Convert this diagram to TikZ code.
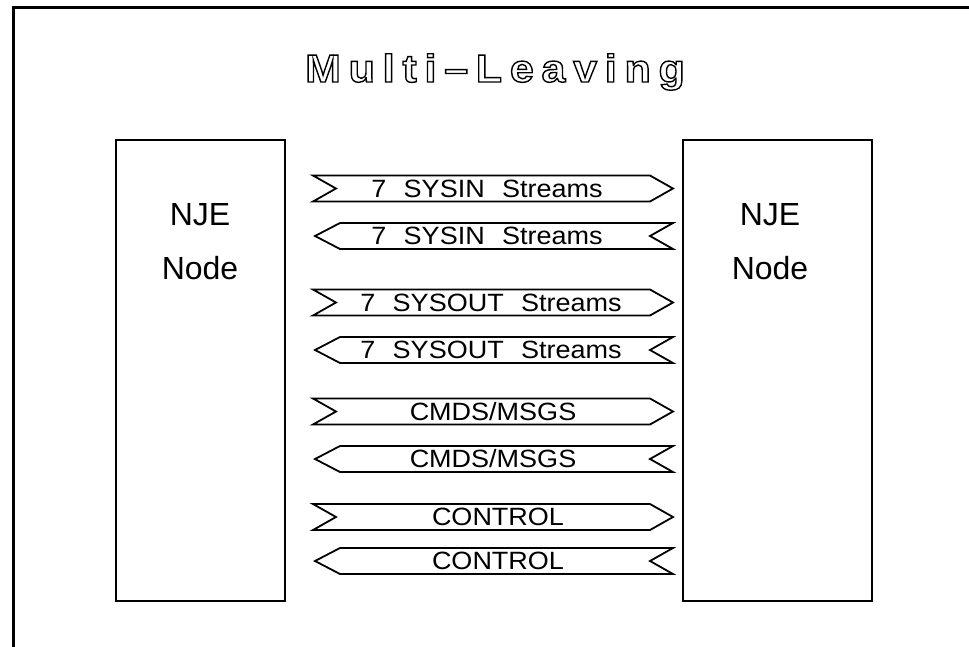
\documentclass[tikz,border=0pt]{standalone}
\usepackage{fontspec}
\setmainfont{Liberation Sans}
\newfontfamily\bannerfont[FakeStretch=1.08,WordSpace=2.3]{Liberation Sans}
\newfontfamily\titlefont[LetterSpace=20,FakeStretch=1.1]{Liberation Sans Bold}
\begin{document}
\begin{tikzpicture}[x=1pt,y=-1pt,
  frame/.style={line width=3pt,line cap=rect},
  nodebox/.style={draw,line width=1.5pt,rectangle,inner sep=0pt,anchor=north west},
  njetext/.style={anchor=base,inner sep=0pt,font=\fontsize{32}{36}\selectfont},
  bannerline/.style={line width=1.8pt,line join=miter},
  bannertext/.style={anchor=base,inner sep=0pt,font=\bannerfont\fontsize{25}{30}\selectfont},
  titletext/.style={anchor=base,inner sep=0pt,line width=1.4pt,font=\titlefont\fontsize{39}{44}\selectfont}]
\useasboundingbox (0,0) rectangle (969,646);
\draw[frame] (13,646) -- (13,7) -- (969,7);
% NJE node boxes
\node[nodebox,minimum width=169pt,minimum height=461pt] (leftbox) at (115,139) {};
\node[nodebox,minimum width=189pt,minimum height=461pt] (rightbox) at (682,139) {};
\node[njetext] (leftnje) at (200,225) {NJE};
\node[njetext] (leftnode) at (200,279) {Node};
\node[njetext] (rightnje) at (770,225) {NJE};
\node[njetext] (rightnode) at (770,279) {Node};
% banners pointing right
\foreach \c/\xc/\t/\n in {188.5/487/{7 SYSIN Streams}/r1,302.5/491/{7 SYSOUT Streams}/r2,411.5/493/{CMDS/MSGS}/r3,517/498/{CONTROL}/r4}{
  \draw[bannerline] (313,{\c-13}) -- (650,{\c-13}) -- (673,\c) -- (650,{\c+13}) -- (313,{\c+13}) -- (336,\c) -- cycle;
  \node[bannertext] (\n) at (\xc,{\c+8.5}) {\t};
}
% banners pointing left
\foreach \c/\xc/\t/\n in {236/487/{7 SYSIN Streams}/l1,350/491/{7 SYSOUT Streams}/l2,459/493/{CMDS/MSGS}/l3,561/498/{CONTROL}/l4}{
  \draw[bannerline] (340,{\c-13}) -- (673,{\c-13}) -- (650,\c) -- (673,{\c+13}) -- (340,{\c+13}) -- (315,\c) -- cycle;
  \node[bannertext] (\n) at (\xc,{\c+8.5}) {\t};
}
% title (outlined text)
\node[titletext] (title) at (495,82) {\special{pdf:literal direct 1 Tr}Multi–Leaving\special{pdf:literal direct 0 Tr}};
\end{tikzpicture}
\end{document}
